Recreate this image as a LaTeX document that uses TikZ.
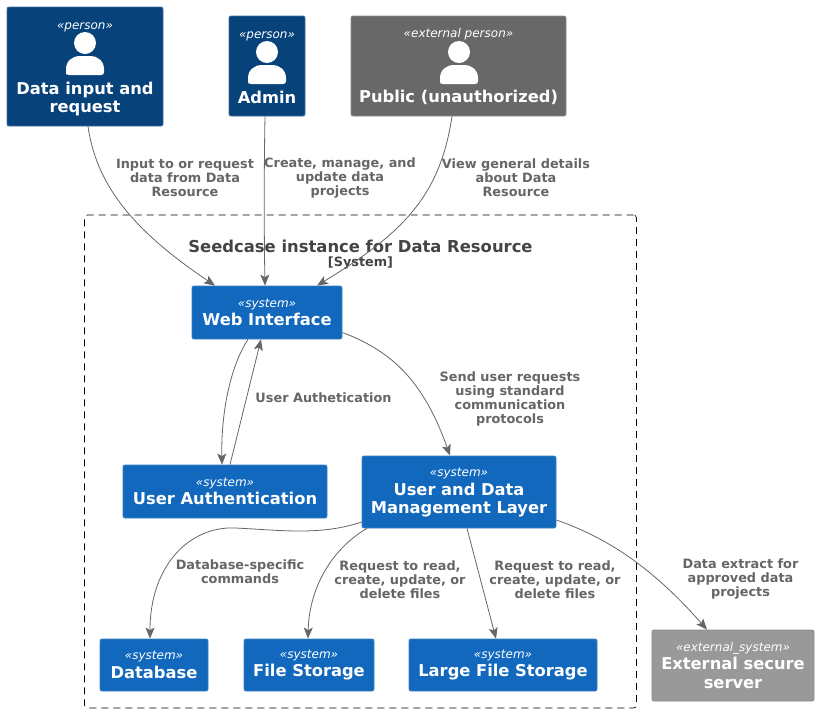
\documentclass[tikz,border=0pt]{standalone}
\usepackage{fontspec}
\setmainfont{DejaVu Sans}
\usetikzlibrary{arrows.meta,calc}
\definecolor{persc}{HTML}{08427B}
\definecolor{persb}{HTML}{3C6E9F}
\definecolor{sysc}{HTML}{1168BD}
\definecolor{sysb}{HTML}{3C7FC0}
\definecolor{extp}{HTML}{686868}
\definecolor{extpb}{HTML}{8A8A8A}
\definecolor{exts}{HTML}{999999}
\definecolor{extsb}{HTML}{8A8A8A}
\definecolor{linec}{HTML}{666666}
\definecolor{titlec}{HTML}{444444}
\newcommand{\stereo}[1]{{\fontsize{12}{14}\mdseries\itshape\selectfont «#1»}}
\newcommand{\personicon}[2]{%
  \fill[white] (#1,#2) circle (11);
  \fill[white] (#1-19,#2+32) -- (#1-19,#2+26) .. controls (#1-19,#2+17) and (#1-11,#2+13) .. (#1-6,#2+13)
    -- (#1+6,#2+13) .. controls (#1+11,#2+13) and (#1+19,#2+17) .. (#1+19,#2+26) -- (#1+19,#2+29)
    .. controls (#1+19,#2+31) and (#1+18,#2+32) .. (#1+16,#2+32) -- (#1-16,#2+32)
    .. controls (#1-18,#2+32) and (#1-19,#2+31) .. (#1-19,#2+29) -- cycle;}
\tikzset{
  x=1pt,y=-1pt,
  box/.style={rectangle,rounded corners=2pt,inner sep=0pt,text=white,align=center,line width=0.8pt,draw,font=\fontsize{16.3}{18.5}\selectfont\bfseries},
  perbox/.style={box,fill=persc,draw=persb},
  sysbox/.style={box,fill=sysc,draw=sysb},
  extpbox/.style={box,fill=extp,draw=extpb},
  extsbox/.style={box,fill=exts,draw=extsb},
  rel/.style={draw=linec,line width=0.8pt,-{Stealth[length=11pt,width=9pt,inset=2.5pt]},fill=none},
  lab/.style={text=linec,align=center,inner sep=0pt,font=\fontsize{12.85}{14}\selectfont\bfseries},
  bound/.style={draw=black,line width=0.7pt,dash pattern=on 7pt off 5pt,rounded corners=3pt,inner sep=0pt},
}
\begin{document}
\begin{tikzpicture}
\useasboundingbox (0,0) rectangle (819,713);
\node[bound,minimum width=552pt,minimum height=493pt] (boundary) at (360.5,461.5) {};
\node[text=titlec,inner sep=0pt,font=\fontsize{16.4}{18}\selectfont\bfseries] (title) at (360.5,246.5) {Seedcase instance for Data Resource};
\node[text=titlec,inner sep=0pt,font=\fontsize{12.8}{14}\selectfont\bfseries] (titlesys) at (360.5,263) {[System]};

\node[perbox,minimum width=156pt,minimum height=119pt] (data) at (85,66.5) {\rule{0pt}{12pt}\stereo{person}\\[46.5pt]Data input and\\request};
\node[perbox,minimum width=76pt,minimum height=100pt] (admin) at (267,66) {\rule{0pt}{10pt}\stereo{person}\\[46.5pt]Admin};
\node[extpbox,minimum width=215pt,minimum height=100pt] (public) at (458.5,66) {\rule{0pt}{10pt}\stereo{external person}\\[46.5pt]Public (unauthorized)};
\node[sysbox,minimum width=150pt,minimum height=53pt] (web) at (267,312.5) {\stereo{system}\\Web Interface};
\node[sysbox,minimum width=204pt,minimum height=53pt] (auth) at (225,491.5) {\stereo{system}\\User Authentication};
\node[sysbox,minimum width=194pt,minimum height=72pt] (udm) at (459,492) {\rule{0pt}{10pt}\stereo{system}\\User and Data\\Management Layer};
\node[sysbox,minimum width=108pt,minimum height=52pt] (db) at (154,665) {\stereo{system}\\Database};
\node[sysbox,minimum width=130pt,minimum height=52pt] (files) at (309,665) {\stereo{system}\\File Storage};
\node[sysbox,minimum width=188pt,minimum height=52pt] (large) at (503,665) {\stereo{system}\\Large File Storage};
\node[extsbox,minimum width=162pt,minimum height=71pt] (ext) at (733,665.5) {\stereo{external\_system}\\External secure\\server};

\personicon{85}{43}
\personicon{267}{52}
\personicon{459}{52}

\draw[rel] ($(data.south)+(3,0)$) .. controls (97,190) and (140,235) .. ($(web.north)+(-52,0)$);
\draw[rel] ($(admin.south)+(-2,0)$) .. controls (264,170) and (264,230) .. ($(web.north)+(-2,0)$);
\draw[rel] ($(public.south)+(-6.5,0)$) .. controls (440,195) and (405,232) .. ($(web.north)+(50,0)$);
\draw[rel] ($(web.south)+(-19,0)$) .. controls (228,370) and (221,420) .. ($(auth.north)+(-3,0)$);
\draw[rel] ($(auth.north)+(5,0)$) -- ($(web.south)+(-6,0)$);
\draw[rel] ($(web.east)+(0,20)$) .. controls (395,352) and (425,385) .. ($(udm.north)+(-9,0)$);
\draw[rel] ($(udm.west)+(0,30)$) .. controls (320,536) and (280,530) .. (235,528) .. controls (190,526) and (150,565) .. ($(db.north)+(-4,0)$);
\draw[rel] ($(udm.south)+(-92,0)$) .. controls (330,550) and (309,590) .. ($(files.north)+(-1,0)$);
\draw[rel] ($(udm.south)+(8,0)$) -- ($(large.north)+(-7,0)$);
\draw[rel] ($(udm.east)+(0,28)$) .. controls (605,537) and (650,565) .. ($(ext.north)+(-26,0)$);

\node[lab] (l1) at (185,178.2) {Input to or request\\data from Data\\Resource};
\node[lab] (l2) at (340,178.2) {Create, manage, and\\update data\\projects};
\node[lab] (l3) at (516,178.2) {View general details\\about Data\\Resource};
\node[lab] (l4) at (323.5,397.8) {User Authetication};
\node[lab] (l5) at (510,398.7) {Send user requests\\using standard\\communication\\protocols};
\node[lab] (l6) at (240,572) {Database-specific\\commands};
\node[lab] (l7) at (400,579.2) {Request to read,\\create, update, or\\delete files};
\node[lab] (l8) at (555,579.2) {Request to read,\\create, update, or\\delete files};
\node[lab] (l9) at (740.5,579.2) {Data extract for\\approved data\\projects};
\end{tikzpicture}
\end{document}
